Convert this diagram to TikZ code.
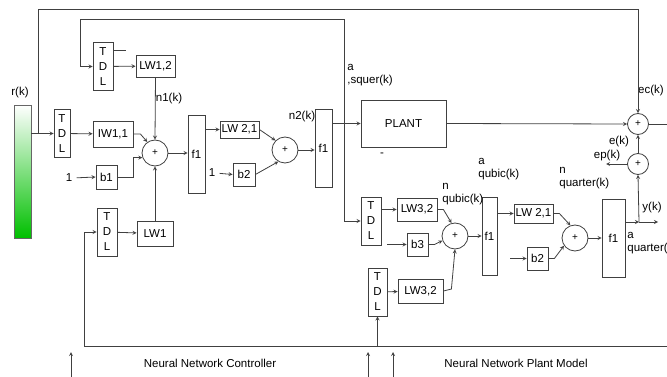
\documentclass[tikz,border=0pt]{standalone}
\usepackage{fontspec}
\setmainfont{Liberation Sans}
\usetikzlibrary{arrows,calc}

\begin{document}
\begin{tikzpicture}[x=1pt, y=-1pt, line width=0.8pt,
    box/.style={rectangle, draw=black!75, inner sep=0pt, font=\fontsize{11.5}{13}\selectfont},
    tdl/.style={box, minimum width=20pt, minimum height=48pt, align=center, font=\fontsize{11.5}{15}\selectfont},
    fone/.style={box, minimum width=17pt, minimum height=78pt},
    sumnode/.style={circle, draw=black!75, inner sep=0pt, minimum size=26pt, font=\fontsize{10}{10}\selectfont},
    lbl/.style={inner sep=0pt, align=left, font=\fontsize{11.5}{13}\selectfont},
    arrow/.style={->, >=stealth, black!75},
    wire/.style={black!75}
]
\useasboundingbox (0,0) rectangle (667,377);

% Reference signal
\node[draw=black!60, top color=white, bottom color=green!75!black, minimum width=17pt, minimum height=133pt, inner sep=0pt] (rk) at (22.5,171.5) {};
\node[lbl] (rklbl) at (20,93) {r(k)};

% Junction points
\coordinate (jr) at (38,133.5);
\coordinate (tr) at (638,9);
\coordinate (fb) at (344,123.5);
\coordinate (c2) at (80,19);
\coordinate (bl) at (84,346);
\coordinate (br) at (667,346);
\coordinate (yj) at (639,222);
\coordinate (yout) at (658,222);
\coordinate (ep) at (606,164);
\coordinate (cout) at (667,124);
\coordinate (stub) at (126,50);
\coordinate (in3) at (387,244.5);
\coordinate (in4) at (510,258.5);

% Controller: first layer
\node[tdl] (TDLa) at (103,66.5) {T\\D\\L};
\node[box, minimum width=39pt, minimum height=22pt] (LW12) at (155.5,66) {LW1,2};
\node[tdl, minimum width=16pt] (TDLb) at (62,133.5) {T\\D\\L};
\node[box, minimum width=40pt, minimum height=26pt] (IW11) at (113,134) {IW1,1};
\node[sumnode] (sum1) at (155,153) {+};
\node[lbl] (one1) at (69,178) {1};
\node[box, minimum width=21pt, minimum height=24pt] (b1) at (106.5,177) {b1};
\node[tdl] (TDLc) at (107,232) {T\\D\\L};
\node[box, minimum width=36pt, minimum height=25pt] (LW1) at (155,233.5) {LW1};
\node[lbl] (n1) at (169,99) {n1(k)};
\node[fone] (f1a) at (196.5,154) {f1};

% Controller: second layer
\node[box, minimum width=39pt, minimum height=17pt] (LW21a) at (239.5,129.5) {LW 2,1};
\node[lbl] (one2) at (212,173) {1};
\node[box, minimum width=22pt, minimum height=23pt] (b2a) at (244,174.5) {b2};
\node[sumnode] (sum2) at (285,150) {+};
\node[fone] (f1b) at (323.5,148.5) {f1};
\node[lbl] (n2) at (302,117) {n2(k)};

% Plant
\node[box, minimum width=85pt, minimum height=47pt] (plant) at (403.5,123.5) {PLANT};
\node[lbl, anchor=north west] (asq) at (347,64) {a\\,squer(k)};
\node[lbl] (dash) at (382,155) {-};

% Error sums
\node[sumnode, minimum size=21pt] (sumc) at (638,124) {+};
\node[sumnode, minimum size=21pt] (sump) at (638,164) {+};
\node[lbl] (ec) at (651,91) {ec(k)};
\node[lbl] (ek) at (619,142) {e(k)};
\node[lbl] (epk) at (607,156) {ep(k)};
\node[lbl] (yk) at (652,208) {y(k)};

% Plant model: first layer
\node[tdl] (TDLd) at (371,221) {T\\D\\L};
\node[box, minimum width=40pt, minimum height=23pt] (LW32a) at (417,209.5) {LW3,2};
\node[box, minimum width=21pt, minimum height=23pt] (b3) at (417.5,244.5) {b3};
\node[tdl, minimum width=19pt] (TDLe) at (377.5,292) {T\\D\\L};
\node[box, minimum width=45pt, minimum height=24pt] (LW32b) at (420.5,291) {LW3,2};
\node[sumnode] (sum3) at (455,236) {+};
\node[fone, minimum width=15pt] (f1c) at (489.5,236) {f1};
\node[lbl, anchor=north west] (nqb) at (442,183) {n\\qubic(k)};
\node[lbl, anchor=north west] (aqb) at (478,158) {a\\qubic(k)};

% Plant model: second layer
\node[box, minimum width=39pt, minimum height=19pt] (LW21b) at (533.5,213.5) {LW 2,1};
\node[box, minimum width=21pt, minimum height=23pt] (b2b) at (537.5,258.5) {b2};
\node[sumnode] (sum4) at (575,238) {+};
\node[fone, minimum width=23pt] (f1d) at (613.5,238) {f1};
\node[lbl, anchor=north west] (nqt) at (559,167) {n\\quarter(k)};
\node[lbl, anchor=north west] (aqt) at (627,232) {a\\quarter(};

% Captions
\node[lbl] (ctrl) at (210,363) {Neural Network Controller};
\node[lbl] (model) at (516,363) {Neural Network Plant Model};

% Controller arrows
\draw[wire] (rk.east |- jr) -- (jr);
\draw[arrow] (jr) -- (TDLb);
\draw[arrow] (jr) |- (tr) -- (sumc.north);
\draw[arrow] (fb) |- (c2) |- (TDLa.west);
\draw[wire] (TDLa.east |- stub) -- (stub);
\draw[arrow] (TDLa) -- (LW12);
\draw[arrow] (LW12.south) -- (sum1.north);
\draw[arrow] (TDLb) -- (IW11);
\draw[arrow] (IW11.east) -- ++(7,0) -- (sum1.125);
\draw[arrow, shorten <=4pt] (one1.east) -- (b1.west);
\draw[arrow] (b1.east) -- ++(16,0) |- (sum1.200);
\draw[arrow] (TDLc) -- (LW1);
\draw[arrow] (LW1.north) -- (sum1.south);
\draw[arrow] (sum1.east) -- (sum1.east -| f1a.west);
\draw[arrow] (f1a.east |- LW21a) -- (LW21a.west);
\draw[arrow] (LW21a.east) -- (sum2.north west);
\draw[arrow, shorten <=4pt] (one2.east) -- (b2a.west);
\draw[arrow] (b2a.east) -- (sum2.240);
\draw[arrow] (sum2.east) -- (sum2.east -| f1b.west);
\draw[arrow] (f1b.east |- plant) -- (plant.west);

% Error arrows
\draw[arrow] (plant.east) -- (sumc.west);
\draw[wire] (sumc.east) -- (cout);
\draw[arrow] (sump.north) -- (sumc.south);
\draw[arrow] (sump.west) -- (ep);
\draw[arrow] (yj) -- (sump.south);

% Plant model arrows
\draw[arrow] (fb) |- (TDLd.west);
\draw[arrow] (TDLd.east |- LW32a) -- (LW32a.west);
\draw[arrow] (LW32a.east) -- ++(6,0) -- (sum3.105);
\draw[arrow] (in3) -- (b3.west);
\draw[arrow] (b3.east) -- ++(6,0) -- (sum3.200);
\draw[arrow] (TDLe) -- (LW32b);
\draw[arrow] (LW32b.east) -- ++(8,-2) -- (sum3.south);
\draw[arrow] (sum3.east) -- (sum3.east -| f1c.west);
\draw[arrow] (f1c.east |- LW21b) -- (LW21b.west);
\draw[arrow] (LW21b.east) -- ++(6,0) -- (sum4.110);
\draw[arrow] (in4) -- (b2b.west);
\draw[arrow] (b2b.east) -- ++(6,0) -- (sum4.215);
\draw[arrow] (sum4.east) -- (sum4.east -| f1d.west);
\draw[arrow] (f1d.east |- yj) -- (yj);
\draw[arrow] (yj) -- (yout);

% Feedback line
\draw[arrow] (br) -- (bl) |- (TDLc.west);
\draw[arrow] (TDLe.south |- bl) -- (TDLe.south);

% Bottom arrows
\foreach \x in {71,368,393}
  \draw[arrow] (\x,377) -- (\x,352);

\end{tikzpicture}
\end{document}
